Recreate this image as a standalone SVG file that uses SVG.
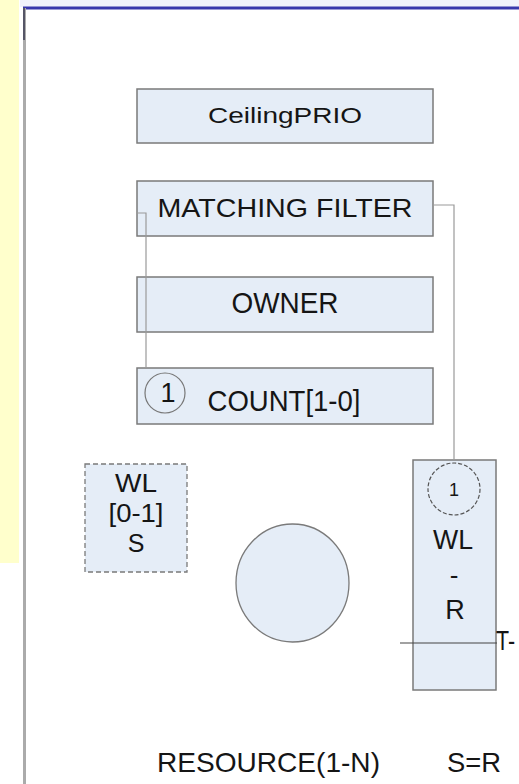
<svg xmlns="http://www.w3.org/2000/svg" width="519" height="784" viewBox="0 0 519 784">
<style>
.box{fill:#e5edf7;stroke:#7a7a7a;stroke-width:1.5}
.t{font-family:"Liberation Sans",Arial,sans-serif;fill:#151515;text-anchor:middle}
.l{font-family:"Liberation Sans",Arial,sans-serif;fill:#151515}
.conn{fill:none;stroke:#9a9a9a;stroke-width:1.2}
</style>
<rect x="0" y="0" width="519" height="784" fill="#ffffff"/>
<rect x="0" y="0" width="19" height="563" fill="#ffffcc"/>
<rect x="20" y="0" width="499" height="7" fill="#f1f3fb"/>
<line x1="23" y1="8" x2="519" y2="8" stroke="#3838ac" stroke-width="3"/>
<line x1="24.5" y1="8" x2="24.5" y2="784" stroke="#ababab" stroke-width="3"/>
<line x1="24" y1="8" x2="24" y2="40" stroke="#555566" stroke-width="2"/>

<g id="ceilingprio">
<rect class="box" x="137" y="89" width="296" height="54"/>
<text class="t" x="285" y="123" font-size="22" textLength="154" lengthAdjust="spacingAndGlyphs">CeilingPRIO</text>
</g>
<g id="matching-filter">
<rect class="box" x="137" y="181" width="296" height="55"/>
<text class="t" x="285" y="217" font-size="25" textLength="255" lengthAdjust="spacingAndGlyphs">MATCHING FILTER</text>
</g>
<g id="owner">
<rect class="box" x="137" y="277" width="296" height="55"/>
<text class="t" x="285" y="313" font-size="29" textLength="107" lengthAdjust="spacingAndGlyphs">OWNER</text>
</g>
<g id="count">
<rect class="box" x="137" y="368" width="296" height="56"/>
<circle cx="165" cy="393" r="20" fill="none" stroke="#777" stroke-width="1.2"/>
<text class="t" x="168" y="402" font-size="27">1</text>
<text class="t" x="284" y="411" font-size="29" textLength="153" lengthAdjust="spacingAndGlyphs">COUNT[1-0]</text>
</g>
<g id="wl-s">
<rect x="85" y="464" width="102" height="108" fill="#e5edf7" stroke="#7a7a7a" stroke-width="1.3" stroke-dasharray="5,3"/>
<text class="t" x="136" y="492" font-size="25" textLength="42" lengthAdjust="spacingAndGlyphs">WL</text>
<text class="t" x="136" y="522" font-size="25" textLength="55" lengthAdjust="spacingAndGlyphs">[0-1]</text>
<text class="t" x="136" y="552" font-size="25">S</text>
</g>
<g id="resource-circle">
<ellipse cx="292.5" cy="583" rx="56.5" ry="59" fill="#e5edf7" stroke="#7a7a7a" stroke-width="1.3"/>
</g>
<g id="wl-r">
<rect class="box" x="413" y="460" width="83" height="230"/>
<circle cx="454" cy="489" r="26" fill="none" stroke="#555" stroke-width="1.2" stroke-dasharray="4,2"/>
<text class="t" x="454" y="496" font-size="18">1</text>
<text class="t" x="453" y="549" font-size="28" textLength="40" lengthAdjust="spacingAndGlyphs">WL</text>
<text class="t" x="454" y="584" font-size="26">-</text>
<text class="t" x="455" y="619" font-size="27">R</text>
</g>

<g id="connectors">
<polyline class="conn" points="433,205 454,205 454,460"/>
<polyline class="conn" points="137,213 146,213 146,368"/>
<line x1="400" y1="643" x2="497" y2="643" stroke="#444" stroke-width="1.2"/>
</g>

<text class="l" x="496" y="650" font-size="27" textLength="19" lengthAdjust="spacingAndGlyphs">T-</text>
<text class="l" x="157" y="772" font-size="28" textLength="223" lengthAdjust="spacingAndGlyphs">RESOURCE(1-N)</text>
<text class="l" x="447" y="772" font-size="28" textLength="54" lengthAdjust="spacingAndGlyphs">S=R</text>
</svg>
